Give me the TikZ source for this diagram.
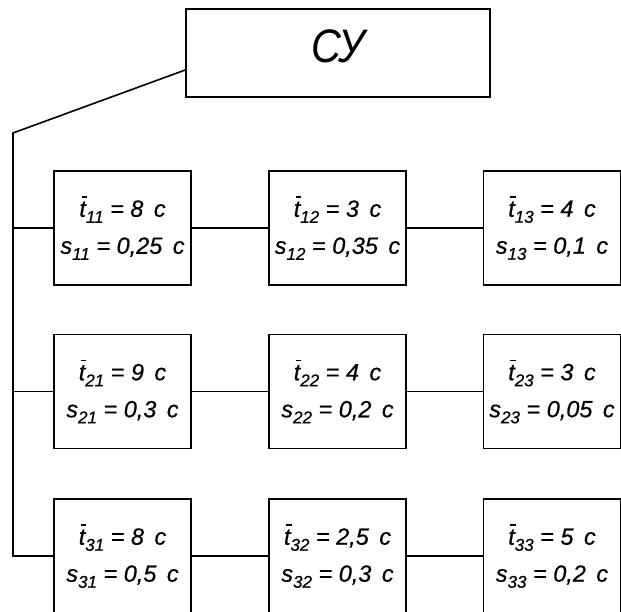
\documentclass[tikz,border=0pt]{standalone}
\usepackage{fontspec}
\usepackage{graphicx}
\setmainfont{Liberation Sans}
\newfontfamily\cellfont[FakeBold=0.5]{Liberation Sans}
\usetikzlibrary{calc}
\newcommand\tb{\rlap{\kern2.2pt\raisebox{19pt}{\rule{5.5pt}{1.6pt}}}t}
\newcommand\sbx[1]{\raisebox{-6pt}{\fontsize{17pt}{17pt}\selectfont #1}}
\newcommand\cellt[4]{\tb\sbx{#1} = #2 \,с\\s\sbx{#3} = #4 \,с}
\tikzset{
  box/.style={draw, line width=1.6pt, minimum width=137pt, minimum height=114pt,
    inner sep=0pt, align=center, font=\cellfont\fontsize{23.5pt}{37pt}\selectfont\itshape},
  topbox/.style={draw, line width=1.6pt, minimum width=304pt, minimum height=88pt,
    inner sep=0pt, text depth=14pt, font=\fontsize{47pt}{47pt}\selectfont\itshape},
  wire/.style={line width=1.6pt}
}
\begin{document}
\begin{tikzpicture}[x=1pt,y=-1pt]
\useasboundingbox (0,0) rectangle (621,612);
\clip (0,0) rectangle (621,612);
\node[topbox] (cy) at (338,53) {\scalebox{0.88}[1]{СУ}};
\node[box] (b11) at (122.5,228) {\cellt{11}{8}{11}{0,25}};
\node[box] (b12) at (337.5,228) {\cellt{12}{3}{12}{0,35}};
\node[box] (b13) at (552,228) {\cellt{13}{4}{13}{0,1}};
\node[box] (b21) at (122.5,391.5) {\cellt{21}{9}{21}{0,3}};
\node[box] (b22) at (337.5,391.5) {\cellt{22}{4}{22}{0,2}};
\node[box] (b23) at (552,391.5) {\cellt{23}{3}{23}{0,05}};
\node[box] (b31) at (122.5,556) {\cellt{31}{8}{31}{0,5}};
\node[box] (b32) at (337.5,556) {\cellt{32}{2,5}{32}{0,3}};
\node[box] (b33) at (552,556) {\cellt{33}{5}{33}{0,2}};
\coordinate (k) at (13,133);
\draw[wire] ($(cy.west)+(0,17)$) -- (k) -- (k |- b31.west) -- (b31.west);
\draw[wire] (k |- b11.west) -- (b11.west);
\draw[wire] (k |- b21.west) -- (b21.west);
\foreach \r in {1,2,3}{
  \draw[wire] (b\r1.east) -- (b\r2.west);
  \draw[wire] (b\r2.east) -- (b\r3.west);
}
\end{tikzpicture}
\end{document}
